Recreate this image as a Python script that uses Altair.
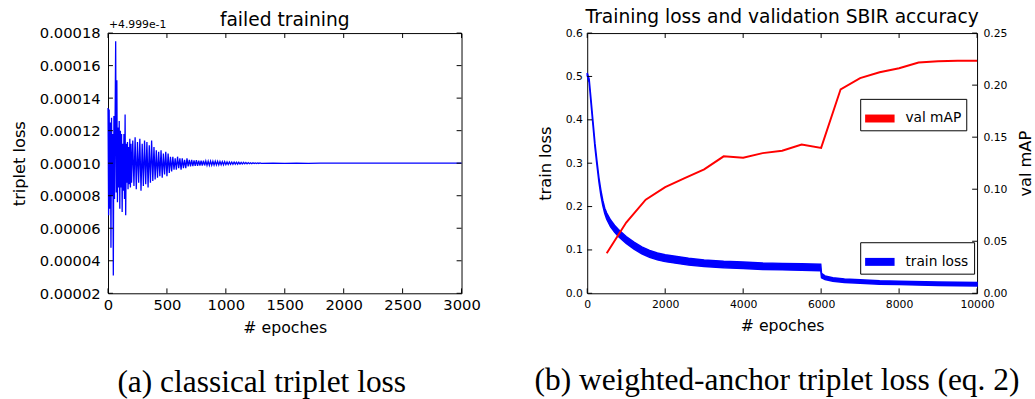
import altair as alt
import pandas as pd

# ---------------- Panel (a): failed training ----------------
# loss values in units of 1e-6 (axis offset +4.999e-1)
a_epochs = list(range(0, 201, 5)) + list(range(210, 1301, 10)) + list(range(1400, 3001, 100))
a_loss = [
    134, 68, 133, 72, 125, 48, 128, 80, 118, 31,
    129, 78, 126, 175, 82, 151, 76, 122, 85, 126,
    72, 120, 85, 118, 70, 112, 83, 118, 78, 130,
    68, 112, 88, 113, 84, 110, 87, 115, 85, 112, 88,
    # 210 .. 400
    114, 86, 116, 84, 113, 88, 115, 83, 112, 86,
    114, 87, 113, 85, 111, 88, 114, 89, 110, 90,
    # 410 .. 520
    108, 91, 107, 92, 108, 91, 106, 93, 107, 92, 106, 94,
    # 530 .. 680
    104, 95, 104, 96, 103, 96, 104, 97, 103, 96, 103, 97, 102, 97, 103, 98,
    # 690 .. 1000
    102, 98, 102, 98.2, 101.8, 98.3, 101.9, 98.4, 101.6, 98.5,
    101.5, 98.5, 101.6, 98.6, 101.4, 98.7, 101.3, 98.7, 101.3, 98.8,
    101.2, 98.8, 101.2, 98.9, 101.1, 98.9, 101.1, 99.0, 101.0, 99.0,
    101.0, 99.1,
    # 1010 .. 1300
    100.8, 99.2, 100.8, 99.3, 100.7, 99.3, 100.7, 99.4, 100.6, 99.4,
    100.6, 99.5, 100.5, 99.5, 100.5, 99.6, 100.4, 99.6, 100.4, 99.7,
    100.3, 99.7, 100.3, 99.8, 100.2, 99.8, 100.2, 99.85, 100.15, 99.9,
    # 1400 .. 3000
    100.1, 99.9, 100.05, 99.95, 100.05, 100, 100, 100, 100, 100,
    100, 100, 100, 100, 100, 100, 100,
]
a_xticks = [0, 500, 1000, 1500, 2000, 2500, 3000]
a_yticks = [20, 40, 60, 80, 100, 120, 140, 160, 180]
a_offset_text = ["+4.999e-1"]

# ---------------- Panel (b): weighted-anchor ----------------
b_epochs = [0, 50, 100, 150, 200, 250, 300, 350, 400, 450, 500, 600, 700, 800,
            1000, 1200, 1400, 1600, 1800, 2000, 2300, 2600, 3000, 3500, 4000,
            4500, 5000, 5500, 5990, 6010, 6100, 6300, 6600, 7000, 7500, 8000,
            9000, 10000]
b_loss_hi = [0.508, 0.494, 0.445, 0.395, 0.345, 0.305, 0.267, 0.238, 0.214, 0.196,
             0.185, 0.169, 0.157, 0.147, 0.131, 0.118, 0.107, 0.099, 0.093, 0.089,
             0.085, 0.081, 0.077, 0.074, 0.072, 0.070, 0.069, 0.068, 0.067, 0.046,
             0.040, 0.036, 0.033, 0.031, 0.029, 0.028, 0.026, 0.025]
b_loss_lo = [0.502, 0.486, 0.435, 0.385, 0.335, 0.295, 0.257, 0.226, 0.202, 0.184,
             0.171, 0.153, 0.141, 0.131, 0.115, 0.102, 0.091, 0.083, 0.077, 0.073,
             0.069, 0.065, 0.062, 0.059, 0.057, 0.055, 0.054, 0.053, 0.052, 0.036,
             0.032, 0.028, 0.025, 0.023, 0.021, 0.020, 0.018, 0.017]
map_epochs = [500, 1000, 1500, 2000, 2500, 3000, 3500, 4000, 4500, 5000,
              5500, 6000, 6500, 7000, 7500, 8000, 8500, 9000, 9500, 10000]
map_vals = [0.0385, 0.068, 0.090, 0.102, 0.1106, 0.119, 0.1316, 0.1303, 0.1347, 0.137,
            0.1429, 0.1397, 0.196, 0.2068, 0.2124, 0.2162, 0.2218, 0.223, 0.2235, 0.2235]
b_xticks = [0, 2000, 4000, 6000, 8000, 10000]
b_yticks_loss = [0.0, 0.1, 0.2, 0.3, 0.4, 0.5, 0.6]
b_yticks_map = [0.0, 0.05, 0.10, 0.15, 0.20, 0.25]

BLUE = "#0000ff"
RED = "#ff0000"
FONT = "DejaVu Sans"
TL = 5  # inward tick length

# ---------------- build panel (a) ----------------
W1, H1 = 360, 265
xs1 = alt.Scale(domain=[0, 3000], nice=False, zero=False)
ys1 = alt.Scale(domain=[20, 180], nice=False, zero=False)
ax1 = alt.Axis(values=a_xticks, format="d", title="# epoches", labelFlush=False,
               labelOverlap=False, labelFontSize=15, titleFontSize=16,
               labelPadding=5, titlePadding=7)
ay1 = alt.Axis(values=a_yticks, labelExpr="format(datum.value/1000000, '.5f')",
               title="triplet loss", labelFontSize=15, titleFontSize=16.5,
               labelFlush=False, labelOverlap=False, labelPadding=8, titlePadding=12)

dfa = pd.DataFrame({"epoch": a_epochs, "loss": a_loss})
line_a = alt.Chart(dfa).mark_line(color=BLUE, strokeWidth=1.3).encode(
    x=alt.X("epoch:Q", scale=xs1, axis=ax1),
    y=alt.Y("loss:Q", scale=ys1, axis=ay1),
)
dfx1 = pd.DataFrame({"epoch": a_xticks})
dfy1 = pd.DataFrame({"loss": a_yticks})
xb1 = alt.Chart(dfx1).mark_rule(color="black").encode(
    x=alt.X("epoch:Q", scale=xs1, axis=ax1), y=alt.value(H1), y2=alt.value(H1 - TL))
xt1 = alt.Chart(dfx1).mark_rule(color="black").encode(
    x=alt.X("epoch:Q", scale=xs1, axis=ax1), y=alt.value(0), y2=alt.value(TL))
yl1 = alt.Chart(dfy1).mark_rule(color="black").encode(
    y=alt.Y("loss:Q", scale=ys1, axis=ay1), x=alt.value(0), x2=alt.value(TL))
yr1 = alt.Chart(dfy1).mark_rule(color="black").encode(
    y=alt.Y("loss:Q", scale=ys1, axis=ay1), x=alt.value(W1), x2=alt.value(W1 - TL))
off_txt = alt.Chart(pd.DataFrame({"s": a_offset_text})).mark_text(
    align="left", baseline="alphabetic", fontSize=11, font=FONT, color="black"
).encode(text="s:N", x=alt.value(1), y=alt.value(-5))

panel_a = alt.layer(line_a, xb1, xt1, yl1, yr1, off_txt).properties(
    width=W1, height=H1,
    title=alt.Title("failed training", fontSize=19, offset=-11),
)
cap_a = alt.vconcat(panel_a, title=alt.Title(
    "(a) classical triplet loss", orient="bottom", font="Liberation Serif",
    fontSize=32, fontWeight="normal", offset=32, frame="bounds", dx=16))

# ---------------- build panel (b) ----------------
W2, H2 = 397, 265
xs2 = alt.Scale(domain=[0, 10000], nice=False, zero=False)
ysL = alt.Scale(domain=[0, 0.6], nice=False)
ysR = alt.Scale(domain=[0, 0.25], nice=False)
ax2 = alt.Axis(values=b_xticks, format="d", title="# epoches", labelFlush=False,
               labelOverlap=False, labelFontSize=11, titleFontSize=16,
               labelPadding=5, titlePadding=9)
ayL = alt.Axis(values=b_yticks_loss, format=".1f", title="train loss",
               labelFlush=False, labelOverlap=False,
               labelFontSize=11, titleFontSize=16.5, labelPadding=5, titlePadding=12)
ayR = alt.Axis(orient="right", values=b_yticks_map, format=".2f", title="val mAP",
               titleAngle=270, titleBaseline="top", labelFontSize=11,
               titleFontSize=16.5, labelFlush=False, labelOverlap=False,
               labelPadding=6, titlePadding=11)

RECT = "M-1,-0.27L1,-0.27L1,0.27L-1,0.27Z"

def legend(x, y, col):
    return alt.Legend(
        orient="none", legendX=x, legendY=y, title=None,
        symbolType=RECT, symbolSize=900, symbolStrokeWidth=0,
        symbolFillColor=col, symbolStrokeColor=col, symbolOpacity=1,
        strokeColor="black", fillColor="white", padding=5, cornerRadius=0,
        labelFontSize=14, labelFont=FONT, labelColor="black", labelOffset=11,
    )

dfb = pd.DataFrame({"epoch": b_epochs, "lo": b_loss_lo, "hi": b_loss_hi, "series": "train loss"})
area_b = alt.Chart(dfb).mark_area(stroke=BLUE, strokeWidth=1.5, opacity=1).encode(
    x=alt.X("epoch:Q", scale=xs2, axis=ax2),
    y=alt.Y("lo:Q", scale=ysL, axis=ayL),
    y2="hi:Q",
    color=alt.Color("series:N", scale=alt.Scale(domain=["train loss"], range=[BLUE]),
                    legend=legend(278, 213, BLUE)),
)
dfx2 = pd.DataFrame({"epoch": b_xticks})
dfyL = pd.DataFrame({"lo": b_yticks_loss})
dfyR = pd.DataFrame({"map": b_yticks_map})
xb2 = alt.Chart(dfx2).mark_rule(color="black").encode(
    x=alt.X("epoch:Q", scale=xs2, axis=ax2), y=alt.value(H2), y2=alt.value(H2 - TL))
xt2 = alt.Chart(dfx2).mark_rule(color="black").encode(
    x=alt.X("epoch:Q", scale=xs2, axis=ax2), y=alt.value(0), y2=alt.value(TL))
yl2 = alt.Chart(dfyL).mark_rule(color="black").encode(
    y=alt.Y("lo:Q", scale=ysL, axis=ayL), x=alt.value(0), x2=alt.value(TL))

dfm = pd.DataFrame({"epoch": map_epochs, "map": map_vals, "series": "val mAP"})
red_b = alt.Chart(dfm).mark_line(strokeWidth=2).encode(
    x=alt.X("epoch:Q", scale=xs2, axis=ax2),
    y=alt.Y("map:Q", scale=ysR, axis=ayR),
    color=alt.Color("series:N", scale=alt.Scale(domain=["val mAP"], range=[RED]),
                    legend=legend(278, 67, RED)),
)
yr2 = alt.Chart(dfyR).mark_rule(color="black").encode(
    y=alt.Y("map:Q", scale=ysR, axis=ayR), x=alt.value(W2), x2=alt.value(W2 - TL))

left_grp = alt.layer(area_b, xb2, xt2, yl2)
right_grp = alt.layer(red_b, yr2)
panel_b = alt.layer(left_grp, right_grp).resolve_scale(
    y="independent", color="independent"
).properties(
    width=W2, height=H2,
    title=alt.Title("Training loss and validation SBIR accuracy", fontSize=19, offset=0),
)
cap_b = alt.vconcat(panel_b, title=alt.Title(
    "(b) weighted-anchor triplet loss (eq. 2)", orient="bottom", font="Liberation Serif",
    fontSize=32, fontWeight="normal", offset=32, frame="bounds", dx=-9))

chart = alt.hconcat(cap_a, cap_b, spacing=54).properties(
    padding={"left": 11, "top": 4, "right": 0, "bottom": 0}
).configure_view(stroke="black", strokeWidth=1).configure_axis(
    domain=False, ticks=False, grid=False, labelFont=FONT, titleFont=FONT,
    labelColor="black", titleColor="black", titleFontWeight="normal",
).configure_title(font=FONT, fontWeight="normal", color="black", anchor="middle", frame="group")

chart.save("out.html", embed_options={"renderer": "svg", "actions": False})
